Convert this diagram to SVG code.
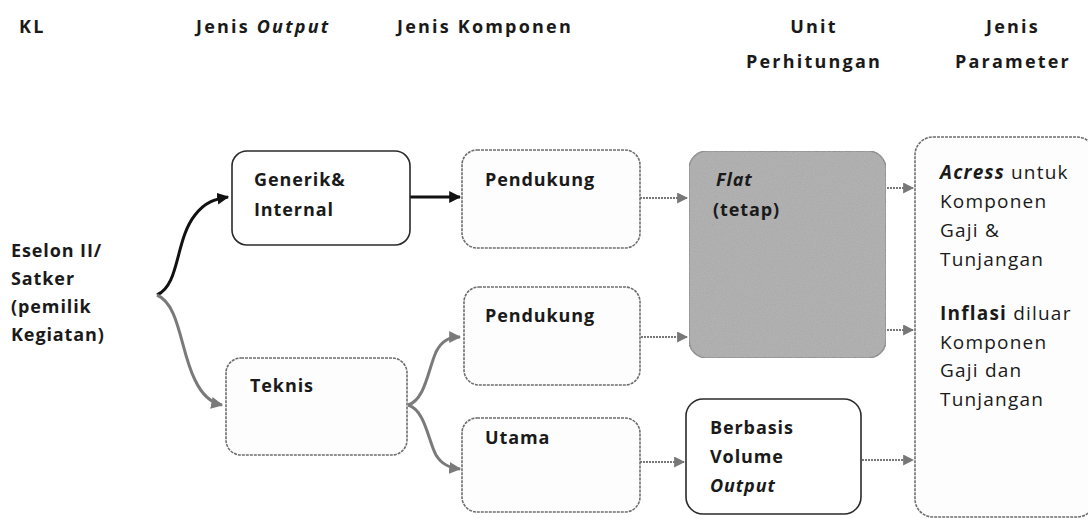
<svg xmlns="http://www.w3.org/2000/svg" width="1088" height="519" viewBox="0 0 1088 519">
<defs>
<style>
.t{font-family:"Open Sans","Liberation Sans",sans-serif;font-size:18px;letter-spacing:0.9px;fill:#1a1a1a}
.b{font-weight:bold}
.r{font-size:19px;letter-spacing:1.2px}
.hd{font-family:"Open Sans","Liberation Sans",sans-serif;font-size:18px;font-weight:bold;letter-spacing:2.2px;fill:#1a1a1a}
.box{fill:#fdfdfd;stroke:#6e6e6e;stroke-width:1.6;stroke-dasharray:3 1}
.boxk{fill:#fff;stroke:#2a2a2a;stroke-width:1.6}
.cg{fill:none;stroke:#7a7a7a;stroke-width:3}
.ck{fill:none;stroke:#111;stroke-width:3}
.cd{fill:none;stroke:#777;stroke-width:2.2;stroke-dasharray:2 1}
</style>
<marker id="ak" viewBox="0 0 10 10" refX="9" refY="5" markerWidth="4" markerHeight="4" orient="auto" markerUnits="strokeWidth"><path d="M0,0 L10,5 L0,10 z" fill="#111"/></marker>
<marker id="ag" viewBox="0 0 10 10" refX="9" refY="5" markerWidth="4" markerHeight="4" orient="auto" markerUnits="strokeWidth"><path d="M0,0 L10,5 L0,10 z" fill="#7a7a7a"/></marker>
<marker id="ad" viewBox="0 0 10 10" refX="9" refY="5" markerWidth="5" markerHeight="5" orient="auto" markerUnits="strokeWidth"><path d="M0,0 L10,5 L0,10 z" fill="#777"/></marker>
<filter id="noise" x="0" y="0" width="100%" height="100%">
<feTurbulence type="fractalNoise" baseFrequency="0.9" numOctaves="2" seed="3" result="n"/>
<feColorMatrix in="n" type="matrix" values="0 0 0 0 0.5  0 0 0 0 0.5  0 0 0 0 0.5  0 0 0 0.7 0" result="g"/>
<feComposite in="g" in2="SourceGraphic" operator="in" result="gc"/>
<feMerge><feMergeNode in="SourceGraphic"/><feMergeNode in="gc"/></feMerge>
</filter>
</defs>
<rect width="1088" height="519" fill="#fff"/>

<g id="headers">
<text class="hd" x="19" y="33">KL</text>
<text class="hd" x="196" y="33">Jenis <tspan font-style="italic">Output</tspan></text>
<text class="hd" x="397" y="33">Jenis Komponen</text>
<text class="hd" x="814" y="33" text-anchor="middle">Unit</text>
<text class="hd" x="814" y="68" text-anchor="middle">Perhitungan</text>
<text class="hd" x="1013" y="33" text-anchor="middle">Jenis</text>
<text class="hd" x="1013" y="68" text-anchor="middle">Parameter</text>
</g>

<g id="kl">
<text class="t b" x="11" y="257">Eselon II/</text>
<text class="t b" x="11" y="285">Satker</text>
<text class="t b" x="11" y="313">(pemilik</text>
<text class="t b" x="11" y="341">Kegiatan)</text>
</g>

<g id="connectors">
<path class="ck" d="M157,295 C180,285 175,240 195,215 C205,202 215,199 228,197" marker-end="url(#ak)"/>
<path class="cg" d="M157,295 C180,305 180,350 195,380 C203,397 212,403 222,405" marker-end="url(#ag)"/>
<path class="ck" d="M410,197 L460,197" marker-end="url(#ak)"/>
<path class="cd" d="M640,198 L687,198" marker-end="url(#ad)"/>
<path class="cg" d="M408,405 C425,400 428,370 436,352 C442,340 450,337 460,337" marker-end="url(#ag)"/>
<path class="cg" d="M408,405 C425,410 428,440 436,455 C442,465 450,468 460,469" marker-end="url(#ag)"/>
<path class="cd" d="M641,337 L687,337" marker-end="url(#ad)"/>
<path class="cd" d="M640,462 L684,462" marker-end="url(#ad)"/>
<path class="cd" d="M887,188 L913,188" marker-end="url(#ad)"/>
<path class="cd" d="M887,330 L913,330" marker-end="url(#ad)"/>
<path class="cd" d="M862,460 L913,460" marker-end="url(#ad)"/>
</g>

<g id="generik">
<rect class="boxk" x="232" y="151" width="178" height="94" rx="15"/>
<text class="t b" x="254" y="186">Generik&amp;</text>
<text class="t b" x="254" y="216">Internal</text>
</g>

<g id="teknis">
<rect class="box" x="226" y="358" width="181" height="97" rx="15"/>
<text class="t b" x="250" y="392">Teknis</text>
</g>

<g id="pendukung1">
<rect class="box" x="462" y="150" width="178" height="98" rx="15"/>
<text class="t b" x="485" y="186">Pendukung</text>
</g>

<g id="pendukung2">
<rect class="box" x="464" y="287" width="176" height="98" rx="15"/>
<text class="t b" x="485" y="322">Pendukung</text>
</g>

<g id="utama">
<rect class="box" x="462" y="418" width="178" height="94" rx="15"/>
<text class="t b" x="485" y="444">Utama</text>
</g>

<g id="flat">
<rect x="689" y="151" width="197" height="207" rx="18" fill="#a8a8a8" stroke="#777" stroke-width="1.5" filter="url(#noise)"/>
<text class="t b" x="716" y="186" font-style="italic">Flat</text>
<text class="t b" x="713" y="216">(tetap)</text>
</g>

<g id="berbasis">
<rect class="boxk" x="686" y="399" width="175" height="115" rx="17"/>
<text class="t b" x="710" y="434">Berbasis</text>
<text class="t b" x="710" y="463">Volume</text>
<text class="t b" x="710" y="492" font-style="italic">Output</text>
</g>

<g id="parameter">
<rect class="box" x="915" y="137" width="180" height="380" rx="18"/>
<text class="t r" x="940" y="179"><tspan font-weight="bold" font-style="italic">Acress</tspan> untuk</text>
<text class="t r" x="940" y="208">Komponen</text>
<text class="t r" x="940" y="237">Gaji &amp;</text>
<text class="t r" x="940" y="266">Tunjangan</text>
<text class="t r" x="940" y="320"><tspan font-weight="bold">Inflasi</tspan> diluar</text>
<text class="t r" x="940" y="349">Komponen</text>
<text class="t r" x="940" y="377">Gaji dan</text>
<text class="t r" x="940" y="406">Tunjangan</text>
</g>
</svg>
